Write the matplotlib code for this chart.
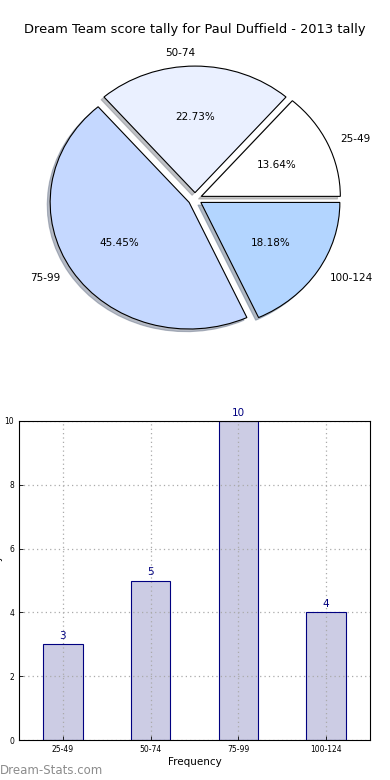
import matplotlib
matplotlib.use("Agg")
import matplotlib.pyplot as plt

categories = ["25-49", "50-74", "75-99", "100-124"]
counts = [3, 5, 10, 4]
pie_colors = ["#ffffff", "#eaf0ff", "#c5d8ff", "#b3d5ff"]
title = "Dream Team score tally for Paul Duffield - 2013 tally"
yticks = [0, 2, 4, 6, 8, 10]

fig = plt.figure(figsize=(3.9, 7.8), dpi=100)
fig.patch.set_facecolor("white")

# Pie chart
axp = fig.add_axes([28.2 / 390, 429.1 / 780, 333.6 / 390, 303.8 / 780])
axp.pie(counts, labels=categories, colors=pie_colors, explode=[0.05] * 4,
        autopct="%1.2f%%", shadow=dict(ox=-0.015, oy=-0.015, shade=0.45),
        startangle=0,
        wedgeprops=dict(edgecolor="black", linewidth=0.8),
        textprops=dict(fontsize=7.5))
axp.set_aspect("auto")
axp.set_xlim(-1.2, 1.2)
axp.set_ylim(-1.2, 1.2)
axp.axis("off")
fig.text(0.5, 1 - 30 / 780, title, ha="center", va="center", fontsize=9.4)

# Bar chart
axb = fig.add_axes([19 / 390, 40 / 780, 351 / 390, 319 / 780])
x = list(range(len(categories)))
axb.bar(x, counts, width=0.45, color="#ccccE4", edgecolor="none", zorder=2)
axb.bar(x, counts, width=0.45, fill=False, edgecolor="#000080",
        linewidth=0.8, zorder=4)
for xi, c in zip(x, counts):
    axb.text(xi, c + 0.1, str(c), ha="center", va="bottom", color="#000080",
             fontsize=7.5)
axb.set_xlim(-0.5, 3.5)
axb.set_ylim(0, 10)
axb.set_xticks(x)
axb.set_xticklabels(categories)
axb.set_yticks(yticks)
axb.tick_params(labelsize=5.5, direction="in", length=3, width=0.6)
axb.grid(True, linestyle=(0, (1, 2.5)), color="#aaaaaa", linewidth=0.9, zorder=3)
axb.set_axisbelow(False)
for s in axb.spines.values():
    s.set_linewidth(0.8)
    s.set_zorder(5)
axb.set_xlabel("Frequency", fontsize=7.5, labelpad=2)
fig.text(-0.004, 199 / 780, "Score Tally", rotation=90, ha="center",
         va="center", fontsize=7)

fig.text(0.0, 1 - 770 / 780, "Dream-Stats.com", ha="left", va="center",
         fontsize=8.5, color="#8c8c8c")

fig.savefig("out.png", dpi=100)
